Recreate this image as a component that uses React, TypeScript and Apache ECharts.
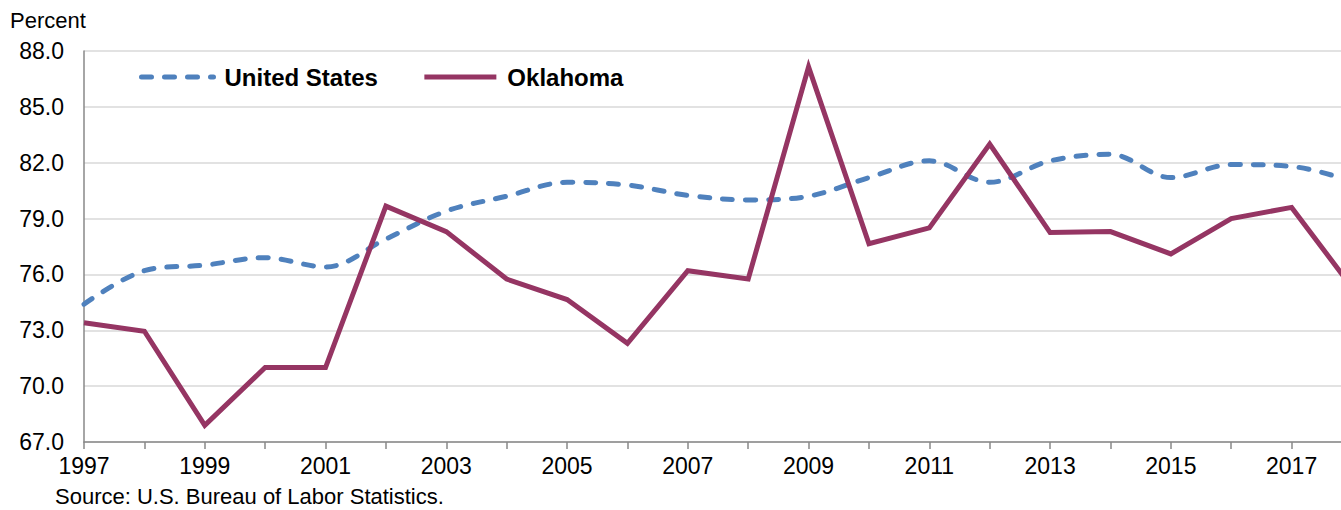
import React, { useEffect, useRef } from "react";
import * as echarts from "echarts";

const years = ["1997","1998","1999","2000","2001","2002","2003","2004","2005","2006","2007","2008","2009","2010","2011","2012","2013","2014","2015","2016","2017","2018"];
const unitedStates = [74.4, 76.2, 76.5, 76.9, 76.4, 77.9, 79.4, 80.2, 80.95, 80.8, 80.25, 80.0, 80.2, 81.2, 82.1, 80.95, 82.1, 82.45, 81.2, 81.9, 81.8, 81.0];
const oklahoma = [73.4, 72.95, 67.9, 71.0, 71.0, 79.67, 78.3, 75.75, 74.65, 72.3, 76.2, 75.75, 87.15, 77.65, 78.5, 83.0, 78.25, 78.3, 77.1, 79.0, 79.6, 75.3];
const yTicks = [67, 70, 73, 76, 79, 82, 85, 88];

const FONT = "'Liberation Sans', Arial, sans-serif";
const BLUE = "#4F81BD";
const MAROON = "#953563";

export default function App() {
  const ref = useRef<HTMLDivElement>(null);
  useEffect(() => {
    if (!ref.current) return;
    const chart = echarts.init(ref.current, undefined, { renderer: "svg" });
    chart.setOption({
      animation: false,
      backgroundColor: "#ffffff",
      grid: { left: 84, right: 8, top: 51, bottom: 68 },
      legend: {
        data: ["United States", "Oklahoma"],
        left: 134,
        top: 60,
        itemWidth: 72,
        itemHeight: 14,
        itemGap: 44,
        itemStyle: { opacity: 0 },
        lineStyle: { width: 5 },
        textStyle: {
          fontFamily: FONT,
          fontSize: 24,
          fontWeight: "bold",
          color: "#000",
          padding: [0, 0, 0, 6],
        },
      },
      xAxis: {
        type: "category",
        data: years,
        boundaryGap: false,
        axisLine: { show: true, lineStyle: { color: "#898989", width: 1.5 } },
        axisTick: { show: true, interval: 0, length: 7, lineStyle: { color: "#898989", width: 1.5 } },
        axisLabel: {
          interval: 1,
          margin: 12,
          fontFamily: FONT,
          fontSize: 23,
          color: "#000",
        },
        splitLine: { show: false },
      },
      yAxis: {
        type: "value",
        min: 67,
        max: 88,
        axisLine: { show: true, lineStyle: { color: "#898989", width: 1.5 } },
        axisTick: { show: false, customValues: yTicks },
        axisLabel: {
          customValues: yTicks,
          margin: 20,
          fontFamily: FONT,
          fontSize: 23,
          color: "#000",
          formatter: (v: number) => v.toFixed(1),
        },
        splitLine: { show: true, lineStyle: { color: "#D9D9D9", width: 1.5 } },
      },
      series: [
        {
          name: "United States",
          type: "line",
          data: unitedStates,
          smooth: 0.35,
          symbol: "none",
          lineStyle: { color: BLUE, width: 5, type: [10, 13], cap: "round" },
          itemStyle: { color: BLUE },
        },
        {
          name: "Oklahoma",
          type: "line",
          data: oklahoma,
          symbol: "none",
          lineStyle: { color: MAROON, width: 5, join: "miter" },
          itemStyle: { color: MAROON },
        },
      ],
      graphic: [
        {
          type: "text",
          left: 10,
          top: 9,
          style: { text: "Percent", fontFamily: FONT, fontSize: 22, fill: "#000" },
        },
        {
          type: "text",
          left: 55,
          top: 485,
          style: { text: "Source: U.S. Bureau of Labor Statistics.", fontFamily: FONT, fontSize: 22, fill: "#000" },
        },
      ],
    });
    return () => chart.dispose();
  }, []);
  return (
    <div
      ref={ref}
      style={{ position: "fixed", left: 0, top: 0, width: 1360, height: 510, background: "#fff" }}
    />
  );
}
